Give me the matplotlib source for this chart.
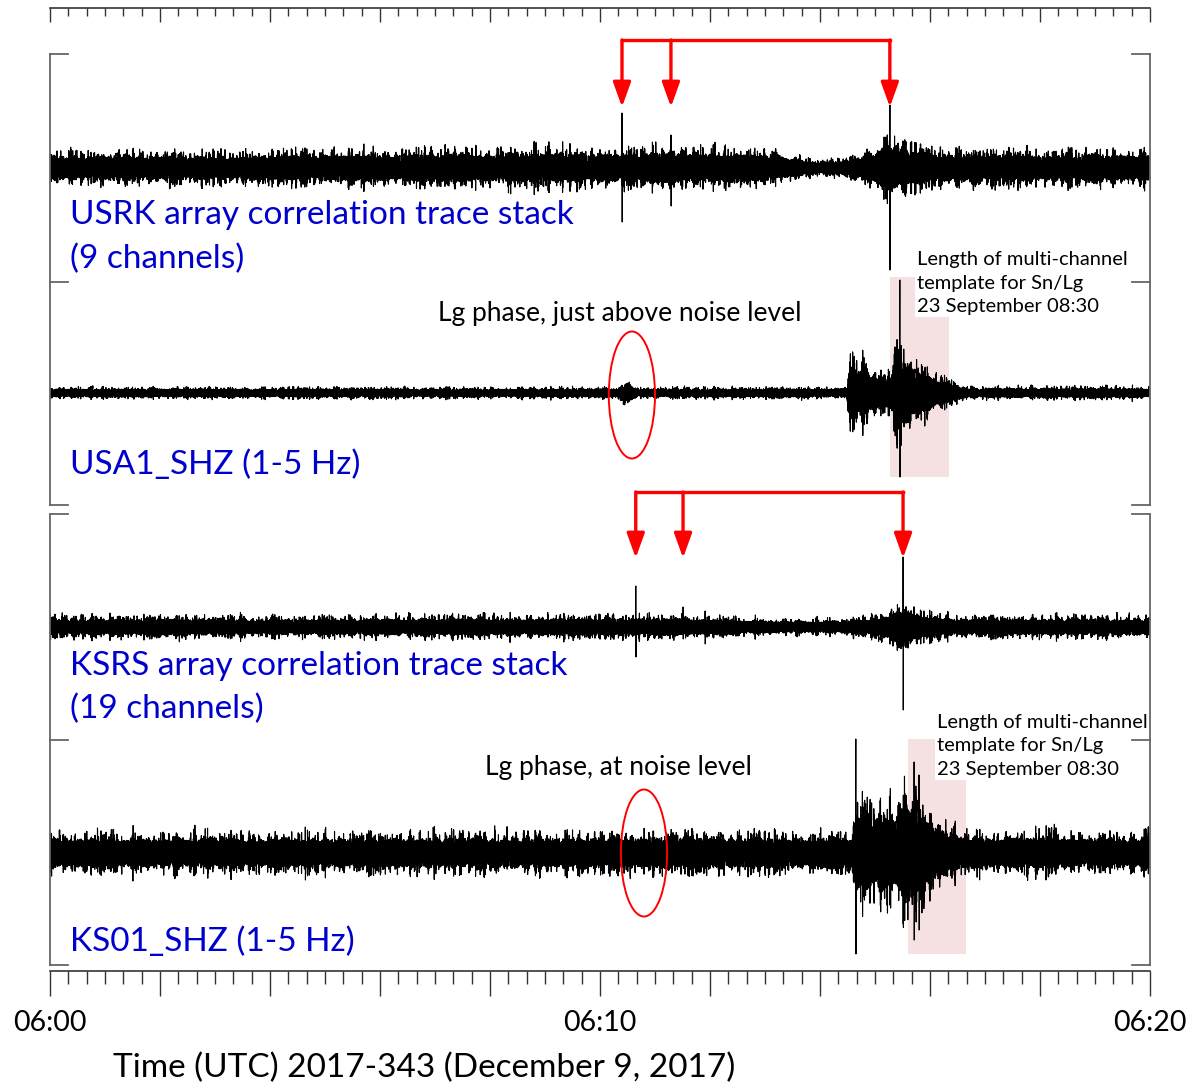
import numpy as np
import matplotlib.pyplot as plt
from matplotlib.patches import Ellipse, Rectangle
from matplotlib.ticker import MultipleLocator, FuncFormatter

plt.rcParams['font.family'] = ['Lato', 'DejaVu Sans']

# time in minutes after 06:00 UTC, 2017-343
t_start, t_end = 0.0, 20.0
n_samp = 14000
t = np.linspace(t_start, t_end, n_samp)

# peak noise envelope per trace (minutes, amplitude) and isolated spikes (minute, up, down)
usrk_env_t = [0, 3, 6, 8, 10, 11, 12, 13, 13.5, 13.9, 14.3, 14.7, 15.0, 15.3, 15.7, 16.2, 17, 20]
usrk_env_a = [21, 21, 23, 25, 25, 27, 25, 23, 16, 10, 11, 17, 29, 40, 29, 23, 23, 23]
usrk_spikes = [(10.40, 55, 54), (11.29, 33, 38), (15.27, 63, 102)]

usa1_env_t = [0, 10.3, 10.5, 10.7, 14.49, 14.53, 14.8, 15.1, 15.3, 15.42, 15.55, 15.8, 16.1, 16.4, 16.7, 20]
usa1_env_a = [7, 7, 16, 7, 7, 48, 40, 32, 32, 66, 58, 42, 26, 15, 8, 8]
usa1_spikes = [(15.45, 113, 84)]

ksrs_env_t = [0, 5, 10, 11.5, 12, 13.5, 14.5, 15.1, 15.5, 15.9, 16.5, 20]
ksrs_env_a = [14, 14, 15, 15, 13, 10, 10, 18, 30, 20, 14, 14]
ksrs_spikes = [(10.65, 41, 30), (11.51, 20, 12), (11.91, 16, 17), (15.51, 70, 83)]

ks01_env_t = [0, 5, 10, 14.6, 14.66, 14.9, 15.2, 15.45, 15.65, 15.85, 16.05, 16.3, 16.6, 20]
ks01_env_a = [26, 26, 26, 26, 72, 66, 58, 70, 90, 80, 52, 36, 28, 26]
ks01_spikes = [(4.64, 26, 27), (14.65, 114, 101), (15.71, 91, 87), (15.80, 78, 77)]

# template windows (start, end in minutes)
usa1_window = (15.27, 16.35)
ks01_window = (15.60, 16.65)

# Lg phase picks marked with ellipses
usa1_lg = 10.58
ks01_lg = 10.80

trace_labels = [("USRK array correlation trace stack", 215), ("(9 channels)", 259),
                ("USA1_SHZ (1-5 Hz)", 465),
                ("KSRS array correlation trace stack", 666), ("(19 channels)", 709),
                ("KS01_SHZ (1-5 Hz)", 942)]
template_note = "Length of multi-channel\ntemplate for Sn/Lg\n23 September 08:30"


def frac_seq(i, r):
    return (i * i * r) % 1.0


def wiggle(n, seed):
    # fast oscillation whose amplitude jumps every few samples, mostly low with rare bursts
    i = np.arange(n) + seed * 7919
    osc = np.sin(2 * np.pi * frac_seq(i, np.sqrt(2)))
    u = frac_seq(i // 5, np.sqrt(11))
    v = frac_seq(i // 50, np.sqrt(13))
    return osc * (0.5 + 0.5 * u ** 5) * (0.85 + 0.25 * v)


def trace(env_t, env_a, spikes, seed):
    sig = np.interp(t, env_t, env_a) * wiggle(n_samp, seed)
    for ts, up, down in spikes:
        k = int(round((ts - t_start) / (t_end - t_start) * (n_samp - 1)))
        sig[k:k + 2] = up
        sig[k + 2:k + 4] = -down
    return sig


W, H = 1199, 1088
fig = plt.figure(figsize=(W / 100, H / 100), dpi=100)
y_top, y_bot = 8, 971
ax = fig.add_axes([50 / W, 1 - y_bot / H, 1100 / W, (y_bot - y_top) / H])
ax.set_xlim(t_start, t_end)
ax.set_ylim(y_bot, y_top)

bases = [168, 393, 627, 853]
traces = [trace(usrk_env_t, usrk_env_a, usrk_spikes, 1),
          trace(usa1_env_t, usa1_env_a, usa1_spikes, 2),
          trace(ksrs_env_t, ksrs_env_a, ksrs_spikes, 3),
          trace(ks01_env_t, ks01_env_a, ks01_spikes, 4)]
for base, sig in zip(bases, traces):
    ax.plot(t, base - sig, color='black', lw=0.8, zorder=3)

# station labels
for name, ly in trace_labels:
    ax.text(0.36, ly, name, color='#0000cc', fontsize=24, ha='left', va='center', zorder=5)

# panel brackets
bracket = '#666666'
for top, mid, bot in [(54, 282, 505), (514, 740, 965)]:
    for x0, x1 in [(t_start, 0.33), (t_end, 19.67)]:
        ax.plot([x0, x0], [top, bot], color=bracket, lw=1.3, clip_on=False, zorder=8)
        for yy in (top, mid, bot):
            ax.plot([x0, x1], [yy, yy], color=bracket, lw=1.3, clip_on=False, zorder=8)

# template windows
for (w0, w1), y0, y1 in [(usa1_window, 277, 477), (ks01_window, 739, 954)]:
    ax.add_patch(Rectangle((w0, y0), w1 - w0, y1 - y0, facecolor='#f5e1e1',
                           edgecolor='none', zorder=1))
for tx, ty in [(15.76, 283), (16.13, 746)]:
    ax.text(tx, ty, template_note, fontsize=14.5, ha='left', va='center', linespacing=1.45,
            zorder=4, bbox=dict(facecolor='white', edgecolor='none', pad=1.5))

# Lg phase notes
ax.text(10.36, 313, "Lg phase, just above noise level", fontsize=19, ha='center', va='center')
ax.text(10.33, 767, "Lg phase, at noise level", fontsize=19, ha='center', va='center')
for tc, yc in [(usa1_lg, 395), (ks01_lg, 853)]:
    ax.add_patch(Ellipse((tc, yc), 0.84, 127, facecolor='none', edgecolor='red', lw=1.4, zorder=6))

# detections on the correlation stacks
for spikes, bar_y, tip_y in [(usrk_spikes, 40, 107), (ksrs_spikes, 492, 558)]:
    picks = [s[0] for s in spikes if s[1] > 30 or s[0] == spikes[1][0]]
    ax.plot([min(picks), max(picks)], [bar_y, bar_y], color='red', lw=2.4,
            solid_capstyle='projecting', zorder=7)
    for p in picks:
        ax.annotate('', xy=(p, tip_y), xytext=(p, bar_y),
                    arrowprops=dict(arrowstyle='-|>,head_length=0.75,head_width=0.27',
                                    color='red', lw=2.4, shrinkA=0, shrinkB=0,
                                    mutation_scale=20), zorder=7)

# time rulers
ruler = '#333333'
for side in ('left', 'right', 'top'):
    ax.spines[side].set_visible(False)
ax.spines['bottom'].set_color(ruler)
ax.spines['bottom'].set_linewidth(1.2)
ax.set_yticks([])
ax.xaxis.set_major_locator(MultipleLocator(2))
ax.xaxis.set_minor_locator(MultipleLocator(1 / 3))
ax.xaxis.set_major_formatter(FuncFormatter(
    lambda v, pos: f"06:{int(round(v)):02d}" if int(round(v)) % 10 == 0 else ""))
ax.tick_params(axis='x', which='major', direction='out', length=18, width=1.0,
               color=ruler, labelsize=20.5, pad=10)
ax.tick_params(axis='x', which='minor', direction='out', length=9, width=1.0, color=ruler)

top = ax.secondary_xaxis('top')
top.spines['top'].set_color(ruler)
top.spines['top'].set_linewidth(1.2)
top.xaxis.set_major_locator(MultipleLocator(2))
top.xaxis.set_minor_locator(MultipleLocator(1 / 3))
top.tick_params(axis='x', which='major', direction='in', length=10, width=1.0,
                color=ruler, labeltop=False)
top.tick_params(axis='x', which='minor', direction='in', length=5.8, width=1.0, color=ruler)

fig.text(424 / W, 1 - 1068 / H, "Time (UTC) 2017-343 (December 9, 2017)",
         fontsize=24, ha='center', va='center')

fig.savefig('out.png', dpi=100)
